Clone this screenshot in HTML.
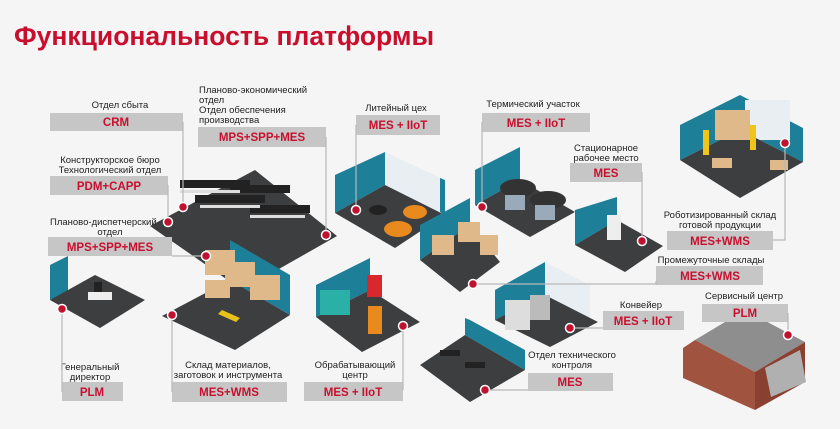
<!DOCTYPE html>
<html><head><meta charset="utf-8"><style>
body{margin:0;width:840px;height:424px;overflow:hidden;background:#f5f5f6;font-family:"Liberation Sans",sans-serif}
svg text{font-family:"Liberation Sans",sans-serif}
.t{font-size:9.5px;fill:#222}
.b{font-size:11.5px;font-weight:bold;fill:#c8102e}
.box{fill:#c6c6c6}
.ln{stroke:#b8b8b8;stroke-width:1.2;fill:none}
.fl{fill:#3d3e40}
.wl{fill:#1d7f98}
.dot{fill:#c0112f;stroke:#fff;stroke-width:1.5}
.crate{fill:#e0b98a}
</style></head><body>
<svg width="840" height="424" viewBox="0 0 840 424">
<text x="14" y="45" font-size="26.5" font-weight="bold" fill="#c8102e">Функциональность платформы</text>

<!-- office -->
<polygon class="fl" points="150,226 255,170 337,236 242,290"/>
<g fill="#222"><rect x="180" y="180" width="70" height="8"/><rect x="195" y="195" width="70" height="8"/><rect x="230" y="185" width="60" height="8"/><rect x="250" y="205" width="60" height="8"/></g>
<g fill="#ddd"><rect x="180" y="190" width="60" height="3"/><rect x="200" y="205" width="60" height="3"/><rect x="250" y="215" width="55" height="3"/></g>
<!-- materials warehouse -->
<polygon class="wl" points="230,240 290,275 290,315 230,280"/>
<polygon class="fl" points="162,316 230,280 290,315 235,350"/>
<g class="crate"><rect x="205" y="250" width="30" height="25"/><rect x="225" y="262" width="30" height="25"/><rect x="250" y="275" width="30" height="25"/><rect x="205" y="280" width="25" height="18"/></g>
<polygon fill="#e8c21a" points="222,310 240,318 236,322 218,314"/>
<!-- director -->
<polygon class="wl" points="50,265 68,256 68,292 50,300"/>
<polygon class="fl" points="50,300 95,275 145,300 100,328"/>
<rect x="88" y="292" width="24" height="8" fill="#eee"/><rect x="94" y="282" width="8" height="10" fill="#222"/>
<!-- machining center -->
<polygon class="wl" points="316,285 370,258 370,290 316,317"/>
<polygon class="fl" points="316,317 370,290 420,322 362,352"/>
<rect x="320" y="290" width="30" height="25" fill="#2bb0a8"/><rect x="367" y="275" width="15" height="22" fill="#d8282e"/><rect x="368" y="306" width="14" height="28" fill="#e88a1e"/>
<!-- casting -->
<polygon class="wl" points="335,175 385,152 385,185 335,213"/>
<polygon fill="#e8eef2" points="385,152 445,180 445,215 385,185"/>
<polygon fill="#1d7f98" points="440,178 445,180 445,215 440,212"/>
<polygon class="fl" points="335,213 385,185 445,215 395,248"/>
<ellipse cx="398" cy="229" rx="14" ry="8" fill="#e88a1e"/><ellipse cx="415" cy="212" rx="12" ry="7" fill="#e88a1e"/><ellipse cx="378" cy="210" rx="9" ry="5" fill="#222"/>
<!-- intermediate warehouse -->
<polygon class="wl" points="420,225 470,198 470,225 420,260"/>
<polygon class="fl" points="420,260 470,225 500,262 460,292"/>
<g class="crate"><rect x="432" y="235" width="22" height="20"/><rect x="458" y="222" width="22" height="20"/><rect x="480" y="235" width="18" height="20"/></g>
<!-- thermal -->
<polygon class="wl" points="475,170 520,147 520,180 475,205"/>
<polygon class="fl" points="475,205 520,180 575,212 530,237"/>
<g fill="#333"><ellipse cx="518" cy="188" rx="18" ry="9"/><ellipse cx="548" cy="200" rx="18" ry="9"/></g>
<g fill="#9ab"><rect x="505" y="195" width="20" height="15"/><rect x="535" y="205" width="20" height="15"/></g>
<!-- stationary -->
<polygon class="wl" points="575,210 617,197 617,220 575,245"/>
<polygon class="fl" points="575,245 617,220 663,246 625,272"/>
<rect x="607" y="215" width="14" height="25" fill="#eee"/>
<!-- robotic -->
<polygon class="wl" points="680,125 740,95 740,130 680,160"/>
<polygon class="wl" points="740,95 803,128 803,162 740,130"/>
<rect x="745" y="100" width="45" height="40" fill="#e8eef2"/>
<polygon class="fl" points="680,160 740,130 803,162 740,198"/>
<g class="crate"><rect x="715" y="110" width="35" height="30"/><rect x="712" y="158" width="20" height="10"/><rect x="770" y="160" width="18" height="10"/></g>
<g fill="#f0c419"><rect x="703" y="130" width="6" height="25"/><rect x="750" y="125" width="6" height="25"/></g>
<!-- conveyor -->
<polygon fill="#e8eef2" points="545,262 590,285 590,320 545,298"/>
<polygon class="wl" points="495,290 545,262 545,298 495,320"/>
<polygon class="fl" points="495,320 545,295 598,322 550,347"/>
<rect x="505" y="300" width="25" height="30" fill="#ddd"/><rect x="530" y="295" width="20" height="25" fill="#bbb"/>
<!-- quality -->
<polygon class="wl" points="465,318 470,320 525,350 525,370 465,335"/>
<polygon class="fl" points="420,365 465,335 525,370 470,402"/>
<g fill="#222"><rect x="440" y="350" width="20" height="6"/><rect x="465" y="362" width="20" height="6"/></g>
<!-- service building -->
<polygon fill="#8e8e8e" points="695,340 745,310 805,342 755,372"/>
<polygon fill="#a0543f" points="683,348 695,340 755,372 755,410 683,378"/>
<polygon fill="#8a4030" points="755,372 805,342 805,382 755,410"/>
<polygon fill="#b0b0b0" points="765,368 800,350 806,382 771,397"/>

<!-- labels & leaders -->
<text class="t" x="120" y="108" text-anchor="middle">Отдел сбыта</text>
<rect class="box" x="50" y="113" width="133" height="18"/><text class="b" x="116" y="126" text-anchor="middle">CRM</text>
<polyline class="ln" points="183,122 183,207"/>

<text class="t" x="110" y="163" text-anchor="middle">Конструкторское бюро</text>
<text class="t" x="110" y="173" text-anchor="middle">Технологический отдел</text>
<rect class="box" x="50" y="176" width="118" height="19"/><text class="b" x="109" y="190" text-anchor="middle">PDM+CAPP</text>
<polyline class="ln" points="168,185 168,222"/>

<text class="t" x="50" y="225">Планово-диспетчерский</text>
<text class="t" x="110" y="235" text-anchor="middle">отдел</text>
<rect class="box" x="48" y="237" width="124" height="19"/><text class="b" x="110" y="251" text-anchor="middle">MPS+SPP+MES</text>
<polyline class="ln" points="172,256 206,256"/>

<text class="t" x="199" y="93">Планово-экономический</text>
<text class="t" x="199" y="103">отдел</text>
<text class="t" x="199" y="113">Отдел обеспечения</text>
<text class="t" x="199" y="123">производства</text>
<rect class="box" x="198" y="127" width="128" height="20"/><text class="b" x="262" y="141" text-anchor="middle">MPS+SPP+MES</text>
<polyline class="ln" points="326,137 326,235"/>

<text class="t" x="396" y="111" text-anchor="middle">Литейный цех</text>
<rect class="box" x="356" y="115" width="84" height="20"/><text class="b" x="398" y="129" text-anchor="middle">MES + IIoT</text>
<polyline class="ln" points="356,125 356,210"/>

<text class="t" x="533" y="107" text-anchor="middle">Термический участок</text>
<rect class="box" x="482" y="113" width="108" height="19"/><text class="b" x="536" y="127" text-anchor="middle">MES + IIoT</text>
<polyline class="ln" points="482,122 482,205"/>

<text class="t" x="606" y="151" text-anchor="middle">Стационарное</text>
<text class="t" x="606" y="161" text-anchor="middle">рабочее место</text>
<rect class="box" x="570" y="163" width="72" height="19"/><text class="b" x="606" y="177" text-anchor="middle">MES</text>
<polyline class="ln" points="642,172 642,240"/>

<text class="t" x="720" y="218" text-anchor="middle">Роботизированный склад</text>
<text class="t" x="720" y="228" text-anchor="middle">готовой продукции</text>
<rect class="box" x="667" y="231" width="106" height="19"/><text class="b" x="720" y="245" text-anchor="middle">MES+WMS</text>
<polyline class="ln" points="773,240 785,240 785,143"/>

<text class="t" x="711" y="263" text-anchor="middle">Промежуточные склады</text>
<rect class="box" x="656" y="266" width="107" height="19"/><text class="b" x="710" y="280" text-anchor="middle">MES+WMS</text>
<polyline class="ln" points="656,281 656,284 473,284"/>

<text class="t" x="641" y="308" text-anchor="middle">Конвейер</text>
<rect class="box" x="603" y="311" width="81" height="19"/><text class="b" x="643" y="325" text-anchor="middle">MES + IIoT</text>
<polyline class="ln" points="603,328 570,328"/>

<text class="t" x="744" y="299" text-anchor="middle">Сервисный центр</text>
<rect class="box" x="702" y="304" width="86" height="18"/><text class="b" x="745" y="317" text-anchor="middle">PLM</text>
<polyline class="ln" points="788,313 788,335"/>

<text class="t" x="572" y="358" text-anchor="middle">Отдел технического</text>
<text class="t" x="572" y="368" text-anchor="middle">контроля</text>
<rect class="box" x="528" y="373" width="85" height="18"/><text class="b" x="570" y="386" text-anchor="middle">MES</text>
<polyline class="ln" points="528,390 485,390"/>

<text class="t" x="355" y="368" text-anchor="middle">Обрабатывающий</text>
<text class="t" x="355" y="378" text-anchor="middle">центр</text>
<rect class="box" x="304" y="382" width="99" height="19"/><text class="b" x="353" y="396" text-anchor="middle">MES + IIoT</text>
<polyline class="ln" points="403,390 403,327"/>

<text class="t" x="228" y="368" text-anchor="middle">Склад материалов,</text>
<text class="t" x="228" y="378" text-anchor="middle">заготовок и инструмента</text>
<rect class="box" x="172" y="382" width="115" height="20"/><text class="b" x="229" y="396" text-anchor="middle">MES+WMS</text>
<polyline class="ln" points="172,392 172,315"/>

<text class="t" x="90" y="370" text-anchor="middle">Генеральный</text>
<text class="t" x="90" y="380" text-anchor="middle">директор</text>
<rect class="box" x="62" y="382" width="61" height="19"/><text class="b" x="92" y="396" text-anchor="middle">PLM</text>
<polyline class="ln" points="62,392 62,310"/>

<g>
<circle class="dot" cx="183" cy="207" r="4.5"/><circle class="dot" cx="168" cy="222" r="4.5"/><circle class="dot" cx="206" cy="256" r="4.5"/><circle class="dot" cx="326" cy="235" r="4.5"/>
<circle class="dot" cx="356" cy="210" r="4.5"/><circle class="dot" cx="482" cy="207" r="4.5"/><circle class="dot" cx="642" cy="241" r="4.5"/><circle class="dot" cx="785" cy="143" r="4.5"/>
<circle class="dot" cx="473" cy="284" r="4.5"/><circle class="dot" cx="570" cy="328" r="4.5"/><circle class="dot" cx="788" cy="335" r="4.5"/><circle class="dot" cx="485" cy="390" r="4.5"/>
<circle class="dot" cx="403" cy="326" r="4.5"/><circle class="dot" cx="172" cy="315" r="4.5"/><circle class="dot" cx="62" cy="309" r="4.5"/>
</g>
</svg>
</body></html>
